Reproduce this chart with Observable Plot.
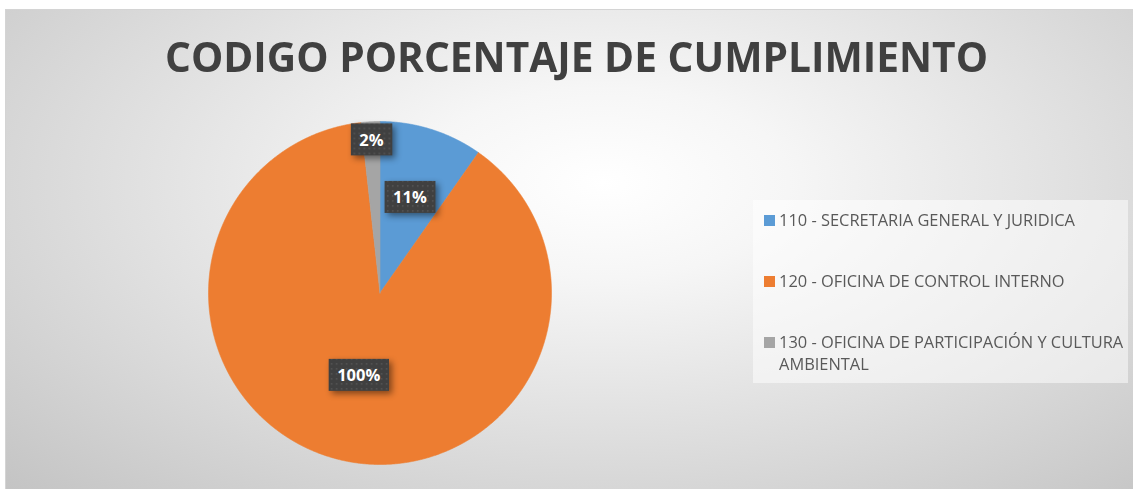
<!DOCTYPE html>
<html>
<head>
<meta charset="utf-8">
<script src="https://cdn.jsdelivr.net/npm/d3@7"></script>
<script src="https://cdn.jsdelivr.net/npm/@observablehq/plot@0.6"></script>
<style>
  html, body { margin: 0; padding: 0; background: #ffffff; }
  #chart { position: relative; width: 1133px; height: 489px; overflow: hidden; font-family: "Open Sans", "DejaVu Sans", sans-serif; }
  #bg { position: absolute; left: 5px; top: 9px; right: 0; bottom: 0;
        border-left: 1px solid #d4d4d4; border-top: 1px solid #d4d4d4;
        background: radial-gradient(ellipse 75% 90% at 53% 36%, #ffffff 0%, #f6f6f6 22%, #c4c4c4 100%); }
  .txt { position: absolute; white-space: nowrap; line-height: 1; transform-origin: 0 0; }
  .mark { display: inline-block; width: 0; height: 0; vertical-align: baseline; }
  #title { font-weight: 700; font-size: 42px; color: #404040; }
  #legend { position: absolute; left: 753px; top: 200px; width: 375px; height: 183px; background: rgba(255,255,255,0.5); }
  .sw { position: absolute; width: 11px; height: 11px; }
  .lg { font-size: 16px; color: #595959; }
  #pie { position: absolute; left: 208px; top: 121px; }
  #pie svg { overflow: visible; }
</style>
</head>
<body>
<div id="chart"><div id="bg"></div></div>
<script>
// ---- data ----
const title = "CODIGO PORCENTAJE DE CUMPLIMIENTO";
const categories = [
  "110 - SECRETARIA GENERAL Y JURIDICA",
  "120 - OFICINA DE CONTROL INTERNO",
  "130 - OFICINA DE PARTICIPACIÓN Y CULTURA AMBIENTAL"
];
const values = [11, 100, 2];
const valueLabels = ["11%", "100%", "2%"];
const colors = ["#5B9BD5", "#ED7D31", "#A5A5A5"];

// ---- layout options ----
const D = 343;                       // pie diameter in px
const labelRadius = [0.58, 0.50, 0.89];

const chart = document.getElementById("chart");

// pie geometry derived from the values
const total = d3.sum(values);
let acc = 0;
const slices = categories.map((name, i) => {
  const a0 = acc / total * 2 * Math.PI;
  acc += values[i];
  const a1 = acc / total * 2 * Math.PI;
  return {name, a0, a1, label: valueLabels[i], r: labelRadius[i]};
});
const pts = slices.flatMap(s => {
  const n = Math.max(2, Math.ceil((s.a1 - s.a0) / (Math.PI / 720)));
  const arr = [{name: s.name, x: 0, y: 0}];
  for (let k = 0; k <= n; k++) {
    const a = s.a0 + (s.a1 - s.a0) * k / n;
    arr.push({name: s.name, x: Math.sin(a), y: Math.cos(a)});
  }
  arr.push({name: s.name, x: 0, y: 0});
  return arr;
});
const labelData = slices.map(s => {
  const m = (s.a0 + s.a1) / 2;
  return {label: s.label, x: s.r * Math.sin(m), y: s.r * Math.cos(m)};
});

const plot = Plot.plot({
  width: D, height: D, margin: 0,
  x: {domain: [-1, 1], axis: null},
  y: {domain: [-1, 1], axis: null},
  color: {domain: categories, range: colors},
  style: {background: "transparent", overflow: "visible"},
  marks: [
    Plot.line(pts, {x: "x", y: "y", z: "name", fill: "name", stroke: "name", strokeWidth: 0.6, curve: "linear"}),
    Plot.text(labelData, {x: "x", y: "y", text: "label", fill: "white", fontSize: 16.5, fontWeight: "bold",
      fontFamily: "Open Sans, sans-serif"})
  ]
});
const pieDiv = document.createElement("div");
pieDiv.id = "pie";
pieDiv.appendChild(plot);
chart.appendChild(pieDiv);

// label boxes behind the value labels
const svgNS = "http://www.w3.org/2000/svg";
const defs = document.createElementNS(svgNS, "defs");
defs.innerHTML = '<pattern id="dots" width="5" height="5" patternUnits="userSpaceOnUse">' +
  '<rect width="5" height="5" fill="#404040"/><rect x="2" y="2" width="1.6" height="1.6" fill="#545454"/></pattern>';
plot.insertBefore(defs, plot.firstChild);
plot.querySelectorAll('g[aria-label="text"] text').forEach(t => {
  const b = t.getBBox();
  const cx = b.x + b.width / 2, cy = b.y + b.height / 2;
  const w = b.width + 17, h = 32;
  const r = document.createElementNS(svgNS, "rect");
  r.setAttribute("x", cx - w / 2);
  r.setAttribute("y", cy - h / 2);
  r.setAttribute("width", w);
  r.setAttribute("height", h);
  r.setAttribute("fill", "url(#dots)");
  const tr = t.getAttribute("transform");
  if (tr) r.setAttribute("transform", tr);
  r.style.filter = "drop-shadow(3px 3px 3px rgba(0,0,0,0.45))";
  t.parentNode.insertBefore(r, t);
});

// text helpers
function makeText(str, cls, x, baseline, id) {
  const el = document.createElement("div");
  el.className = "txt " + cls;
  if (id) el.id = id;
  el.appendChild(document.createTextNode(str));
  const m = document.createElement("span");
  m.className = "mark";
  el.appendChild(m);
  chart.appendChild(el);
  el.style.left = x + "px";
  el.style.top = "0px";
  const base = m.getBoundingClientRect().top - chart.getBoundingClientRect().top;
  el.style.top = (baseline - base) + "px";
  return el;
}

// title
const tEl = makeText(title, "", 165, 72, "title");
const tw = tEl.getBoundingClientRect().width;
tEl.style.transform = `scaleX(${823 / tw})`;

// legend
const legend = document.createElement("div");
legend.id = "legend";
chart.appendChild(legend);

const probe = makeText(categories[0], "lg", 779, 226);
const lgScale = 296 / probe.getBoundingClientRect().width;
probe.remove();
const ctx = document.createElement("canvas").getContext("2d");
ctx.font = '16px "Open Sans"';
function wrap(str, maxW) {
  const words = str.split(" ");
  const lines = [];
  let cur = "";
  for (const w of words) {
    const test = cur ? cur + " " + w : w;
    if (cur && ctx.measureText(test).width * lgScale > maxW) { lines.push(cur); cur = w; }
    else cur = test;
  }
  if (cur) lines.push(cur);
  return lines;
}
categories.forEach((c, i) => {
  const baseline = 226 + i * 61;
  const sw = document.createElement("div");
  sw.className = "sw";
  sw.style.left = "764px";
  sw.style.top = (baseline - 11) + "px";
  sw.style.background = colors[i];
  chart.appendChild(sw);
  wrap(c, 348).forEach((line, j) => {
    const el = makeText(line, "lg", 779, baseline + j * 22);
    el.style.transform = `scaleX(${lgScale})`;
  });
});
</script>
</body>
</html>
